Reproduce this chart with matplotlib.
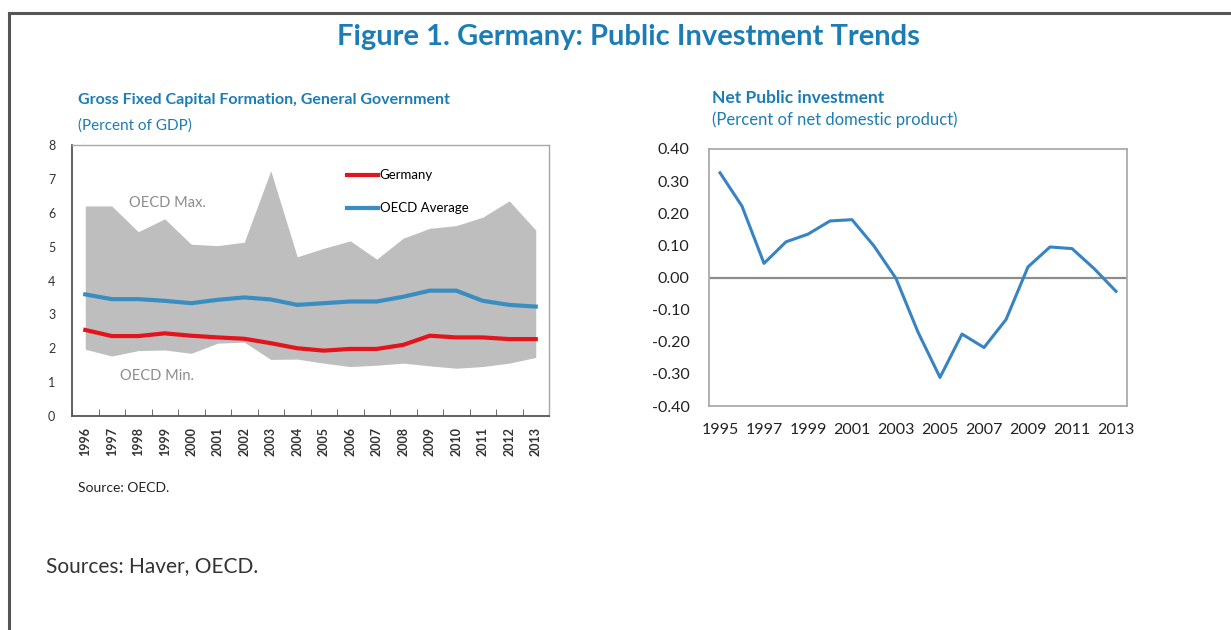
import matplotlib
matplotlib.use("Agg")
import matplotlib.pyplot as plt
import numpy as np
from matplotlib.lines import Line2D

plt.rcParams['font.family'] = ['Lato', 'DejaVu Sans']

TITLE_BLUE = "#1C7DB4"
RED = "#E3141C"
BLUE = "#3A8DC1"
LINE_BLUE = "#3883C4"
FILL_GREY = "#BEBEBE"
TEXT_DARK = "#333333"

# left panel: gross fixed capital formation (% of GDP)
gfcf_years = [str(y) for y in range(1996, 2014)]
oecd_max = [6.2, 6.2, 5.44, 5.82, 5.07, 5.03, 5.13, 7.24, 4.7, 4.95, 5.17, 4.63, 5.25, 5.54, 5.62, 5.87, 6.35, 5.49]
oecd_min = [1.97, 1.77, 1.93, 1.95, 1.85, 2.15, 2.18, 1.67, 1.68, 1.56, 1.46, 1.5, 1.56, 1.48, 1.41, 1.46, 1.56, 1.73]
oecd_avg = [3.59, 3.45, 3.45, 3.4, 3.33, 3.43, 3.5, 3.44, 3.28, 3.33, 3.38, 3.38, 3.52, 3.7, 3.7, 3.4, 3.28, 3.23]
germany = [2.54, 2.36, 2.36, 2.44, 2.37, 2.32, 2.28, 2.15, 2.0, 1.93, 1.98, 1.98, 2.1, 2.37, 2.32, 2.32, 2.27, 2.27]

# right panel: net public investment (% of net domestic product)
npi_years = list(range(1995, 2014))
npi = [0.326, 0.222, 0.044, 0.111, 0.135, 0.176, 0.18, 0.098, -0.003, -0.17, -0.311,
       -0.176, -0.218, -0.131, 0.033, 0.095, 0.09, 0.028, -0.043]

fig = plt.figure(figsize=(12.31, 6.30), dpi=100)

# frame lines (top and left)
fig.add_artist(Line2D([9 / 1231, 1], [1 - 13 / 630, 1 - 13 / 630], color="#555555", lw=2.2))
fig.add_artist(Line2D([9 / 1231, 9 / 1231], [0, 1 - 13 / 630], color="#555555", lw=2.2))

fig.text(628 / 1231, 1 - 37 / 630, "Figure 1. Germany: Public Investment Trends", ha="center", va="center",
         fontsize=21, fontweight="bold", color=TITLE_BLUE)

#############################################################
# left panel
ax1 = fig.add_axes([72 / 1231, 1 - 416 / 630, 477 / 1231, 271 / 630])
x = np.arange(len(gfcf_years))
ax1.fill_between(x, oecd_min, oecd_max, color=FILL_GREY, lw=0)
ax1.plot(x, germany, color=RED, lw=3, label="Germany")
ax1.plot(x, oecd_avg, color=BLUE, lw=3, label="OECD Average")
ax1.set_xlim(-0.5, len(x) - 0.5)
ax1.set_ylim(0, 8)
ax1.set_yticks(range(0, 9))
ax1.set_xticks(x)
ax1.set_xticklabels(gfcf_years, rotation=90, fontsize=9, fontweight="bold", color=TEXT_DARK)
ax1.set_xticks(np.arange(-0.5, len(x)), minor=True)
ax1.tick_params(axis="x", which="major", length=0, pad=8)
ax1.tick_params(axis="x", which="minor", direction="in", length=5, color="#555555")
ax1.tick_params(axis="y", length=0, labelsize=9, labelcolor=TEXT_DARK, pad=12)
for side in ["left", "bottom"]:
    ax1.spines[side].set_color("#555555")
    ax1.spines[side].set_linewidth(1.3)
for side in ["top", "right"]:
    ax1.spines[side].set_color("#A8A8A8")
    ax1.spines[side].set_linewidth(1.0)

ax1.text(3.1, 6.3, "OECD Max.", ha="center", va="center", fontsize=10.5, color="#8C8C8C")
ax1.text(2.7, 1.18, "OECD Min.", ha="center", va="center", fontsize=10.5, color="#8C8C8C")
ax1.legend(loc="upper left", bbox_to_anchor=(0.565, 0.93), frameon=False, fontsize=9.5,
           handlelength=2.4, handletextpad=0.1, labelspacing=1.6, borderaxespad=0)

fig.text(78 / 1231, 1 - 100 / 630, "Gross Fixed Capital Formation, General Government", ha="left", va="center",
         fontsize=11.5, fontweight="bold", color=TITLE_BLUE)
fig.text(78 / 1231, 1 - 126 / 630, "(Percent of GDP)", ha="left", va="center", fontsize=11, color=TITLE_BLUE)
fig.text(78 / 1231, 1 - 488 / 630, "Source: OECD.", ha="left", va="center", fontsize=10, color="#222222")

#############################################################
# right panel
ax2 = fig.add_axes([709 / 1231, 1 - 406 / 630, 418 / 1231, 257 / 630])
x2 = np.arange(len(npi_years))
ax2.axhline(0, color="#8C8C8C", lw=1.6)
ax2.plot(x2, npi, color=LINE_BLUE, lw=2.2)
ax2.set_xlim(-0.5, len(x2) - 0.5)
ax2.set_ylim(-0.4, 0.4)
yt = np.round(np.arange(-0.4, 0.41, 0.1), 2)
ax2.set_yticks(yt)
ax2.set_yticklabels([f"{v:.2f}" if abs(v) > 1e-9 else "0.00" for v in yt])
ax2.set_xticks(x2[::2])
ax2.set_xticklabels([str(y) for y in npi_years[::2]])
ax2.tick_params(axis="both", length=0, labelsize=11.5, labelcolor="#222222")
ax2.tick_params(axis="x", pad=12)
ax2.tick_params(axis="y", pad=14)
for side in ax2.spines:
    ax2.spines[side].set_color("#AAAAAA")
    ax2.spines[side].set_linewidth(1.3)

fig.text(712 / 1231, 1 - 98 / 630, "Net Public investment", ha="left", va="center",
         fontsize=12.5, fontweight="bold", color=TITLE_BLUE)
fig.text(712 / 1231, 1 - 120 / 630, "(Percent of net domestic product)", ha="left", va="center",
         fontsize=12, color=TITLE_BLUE)

fig.text(46 / 1231, 1 - 566 / 630, "Sources: Haver, OECD.", ha="left", va="center", fontsize=15, color="#333333")

plt.savefig("out.png", dpi=100)
